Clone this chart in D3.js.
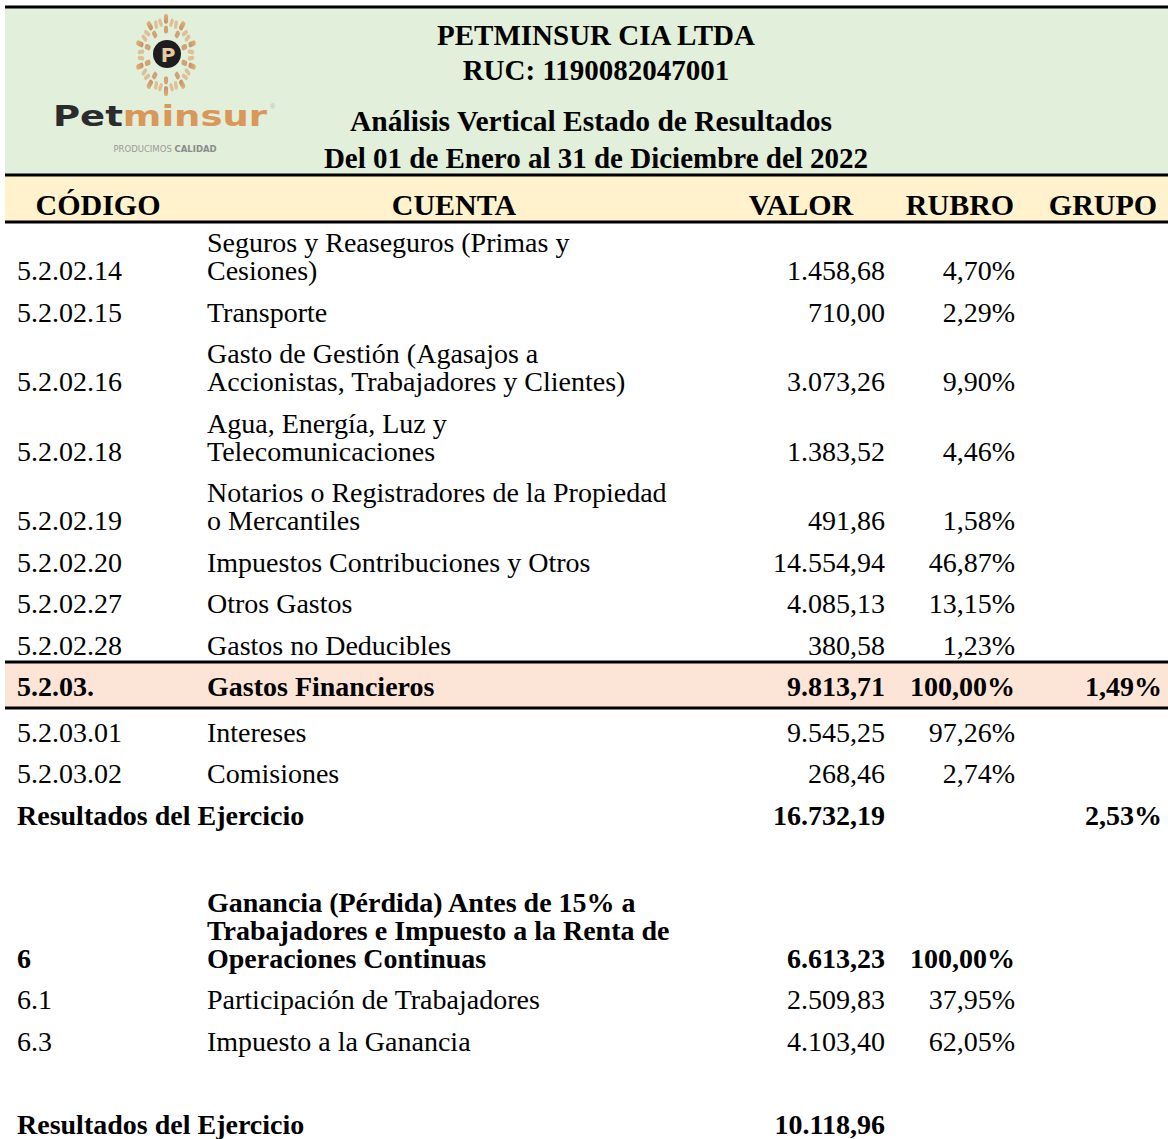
<!DOCTYPE html>
<html><head><meta charset="utf-8">
<script src="https://cdn.jsdelivr.net/npm/d3@7"></script>
<style>html,body{margin:0;padding:0;background:#fff;}svg{display:block;}</style>
</head><body><div id="chart"></div>
<script>
// ---------- DATA ----------
const titleLines = ["PETMINSUR CIA LTDA", "RUC: 1190082047001", "Análisis Vertical Estado de Resultados", "Del 01 de Enero al 31 de Diciembre del 2022"];
const headers = ["CÓDIGO", "CUENTA", "VALOR", "RUBRO", "GRUPO"];
const codes = ["5.2.02.14","5.2.02.15","5.2.02.16","5.2.02.18","5.2.02.19","5.2.02.20","5.2.02.27","5.2.02.28","5.2.03.","5.2.03.01","5.2.03.02","","","6","6.1","6.3","",""];
const cuentas = [
  ["Seguros y Reaseguros (Primas y","Cesiones)"],
  ["Transporte"],
  ["Gasto de Gestión (Agasajos a","Accionistas, Trabajadores y Clientes)"],
  ["Agua, Energía, Luz y","Telecomunicaciones"],
  ["Notarios o Registradores de la Propiedad","o Mercantiles"],
  ["Impuestos Contribuciones y Otros"],
  ["Otros Gastos"],
  ["Gastos no Deducibles"],
  ["Gastos Financieros"],
  ["Intereses"],
  ["Comisiones"],
  ["Resultados del Ejercicio"],
  [""],
  ["Ganancia (Pérdida) Antes de 15% a","Trabajadores e Impuesto a la Renta de","Operaciones Continuas"],
  ["Participación de Trabajadores"],
  ["Impuesto a la Ganancia"],
  [""],
  ["Resultados del Ejercicio"]
];
const valores = ["1.458,68","710,00","3.073,26","1.383,52","491,86","14.554,94","4.085,13","380,58","9.813,71","9.545,25","268,46","16.732,19","","6.613,23","2.509,83","4.103,40","","10.118,96"];
const rubros = ["4,70%","2,29%","9,90%","4,46%","1,58%","46,87%","13,15%","1,23%","100,00%","97,26%","2,74%","","","100,00%","37,95%","62,05%","",""];
const grupos = ["","","","","","","","","1,49%","","","2,53%","","","","","",""];
const kinds = ["n","n","n","n","n","n","n","n","section","n","n","total","blank","bold","n","n","blank","total"];

// ---------- LAYOUT ----------
const W = 1168, H = 1139;
const FONT = "'Liberation Serif','Times New Roman',serif";
const svg = d3.select("#chart").append("svg").attr("width", W).attr("height", H);

svg.append("rect").attr("x",5).attr("y",8).attr("width",W-5).attr("height",167).attr("fill","#e2efda");
svg.append("rect").attr("x",5).attr("y",176).attr("width",W-5).attr("height",46).attr("fill","#fff2cc");

// row baselines (last line) computed cumulatively from line counts
const rowH = 41.5, lineH = 28;
const baselines = [];
let y = 280 - (rowH + (cuentas[0].length - 1) * lineH);
kinds.forEach((k, i) => {
  const n = cuentas[i].length;
  let h = rowH + (n - 1) * lineH;
  if (i > 0 && kinds[i-1] === "section") h += 4;
  if (i > 0 && kinds[i-1] === "blank" && k === "bold") h += 4;
  y += h;
  baselines.push(y);
});

kinds.forEach((k, i) => {
  if (k === "section") {
    const top = baselines[i] - 34, bot = baselines[i] + 12;
    svg.append("rect").attr("x",5).attr("y",top).attr("width",W-5).attr("height",bot-top).attr("fill","#fce4d6");
    [top, bot].forEach(ly =>
      svg.append("line").attr("x1",5).attr("x2",W).attr("y1",ly).attr("y2",ly).attr("stroke","#000").attr("stroke-width",3));
  }
});

[7, 175, 222].forEach(ly =>
  svg.append("line").attr("x1",5).attr("x2",W).attr("y1",ly).attr("y2",ly).attr("stroke","#000").attr("stroke-width",3));

// titles
const titleY = [45, 80, 131, 168];
const titleSize = [29, 29, 29.5, 29];
svg.append("g").selectAll("text").data(titleLines).join("text")
  .attr("x",(d,i)=> i === 2 ? 591 : 596).attr("y",(d,i)=>titleY[i])
  .attr("text-anchor","middle").attr("font-family",FONT).attr("font-weight","bold")
  .attr("font-size",(d,i)=>titleSize[i]).attr("fill","#000").text(d=>d);

// column headers
const headX = [98, 454, 801, 960, 1103];
svg.append("g").selectAll("text").data(headers).join("text")
  .attr("x",(d,i)=>headX[i]).attr("y",215).attr("text-anchor","middle")
  .attr("font-family",FONT).attr("font-weight","bold").attr("font-size",30).attr("fill","#000").text(d=>d);

// body
const colCode = 17, colCuenta = 207, colValor = 885, colRubro = 1015, colGrupo = 1162;
const body = svg.append("g").attr("font-family",FONT).attr("font-size",28).attr("fill","#000");
kinds.forEach((k, i) => {
  if (k === "blank") return;
  const g = body.append("g").attr("font-weight", k !== "n" ? "bold" : "normal");
  const b = baselines[i];
  const n = cuentas[i].length;
  if (k === "total") {
    g.append("text").attr("x",colCode).attr("y",b).text(cuentas[i][0]);
  } else {
    g.append("text").attr("x",colCode).attr("y",b).text(codes[i]);
    g.selectAll("text.c").data(cuentas[i]).join("text").attr("class","c")
      .attr("x",colCuenta).attr("y",(d,j)=>b-(n-1-j)*lineH).text(d=>d);
  }
  g.append("text").attr("x",colValor).attr("y",b).attr("text-anchor","end").text(valores[i]);
  g.append("text").attr("x",colRubro).attr("y",b).attr("text-anchor","end").text(rubros[i]);
  g.append("text").attr("x",colGrupo).attr("y",b).attr("text-anchor","end").text(grupos[i]);
});

// ---------- LOGO ----------
const logo = svg.append("g");
const defs = svg.append("defs");
const grad = defs.append("linearGradient").attr("id","og").attr("x1","0").attr("x2","0").attr("y1","0").attr("y2","1");
grad.append("stop").attr("offset","0").attr("stop-color","#e3a15e");
grad.append("stop").attr("offset","1").attr("stop-color","#b87a4b");
const cx = 166, cy = 55;
const sun = logo.append("g").attr("transform",`translate(${cx},${cy}) scale(0.82,1.08)`);
d3.range(10).forEach(r => {
  const gr = sun.append("g").attr("transform",`rotate(${r*36})`);
  gr.append("rect").attr("x",-2.5).attr("y",-38).attr("width",5).attr("height",9).attr("rx",2).attr("fill","url(#og)").attr("opacity",0.8);
  gr.append("rect").attr("x",-2.5).attr("y",-27).attr("width",5).attr("height",7).attr("rx",2).attr("fill","#c98a55").attr("opacity",0.75);
  gr.append("rect").attr("x",4).attr("y",-34).attr("width",4).attr("height",8).attr("rx",2).attr("fill","#dca06a").attr("opacity",0.6).attr("transform","rotate(12)");
  gr.append("rect").attr("x",-8).attr("y",-34).attr("width",4).attr("height",8).attr("rx",2).attr("fill","#dca06a").attr("opacity",0.6).attr("transform","rotate(-12)");
});
logo.append("circle").attr("cx",cx+1).attr("cy",cy-1).attr("r",14).attr("fill","#1d1d1f");
logo.append("text").attr("x",cx+2).attr("y",cy+7).attr("text-anchor","middle").attr("font-family","'DejaVu Sans',sans-serif")
  .attr("font-weight","bold").attr("font-size",20).attr("fill","#e8c9a0").text("P");
const lt = logo.append("text").attr("x",53).attr("y",126).attr("font-family","'DejaVu Sans',Arial,sans-serif")
  .attr("font-weight","bold").attr("font-size",28).attr("textLength",214).attr("lengthAdjust","spacingAndGlyphs");
lt.append("tspan").attr("fill","#2b2b2d").text("Pet");
lt.append("tspan").attr("fill","#d9975a").text("minsur");
logo.append("text").attr("x",270).attr("y",109).attr("font-family","sans-serif").attr("font-size",7).attr("fill","#bbb").text("®");
const sub = logo.append("text").attr("x",165).attr("y",152).attr("text-anchor","middle").attr("font-family","'DejaVu Sans',sans-serif")
  .attr("font-size",8.5).attr("fill","#9a9a9a");
sub.append("tspan").text("PRODUCIMOS ");
sub.append("tspan").attr("font-weight","bold").attr("fill","#8a8a8a").text("CALIDAD");
</script></body></html>
